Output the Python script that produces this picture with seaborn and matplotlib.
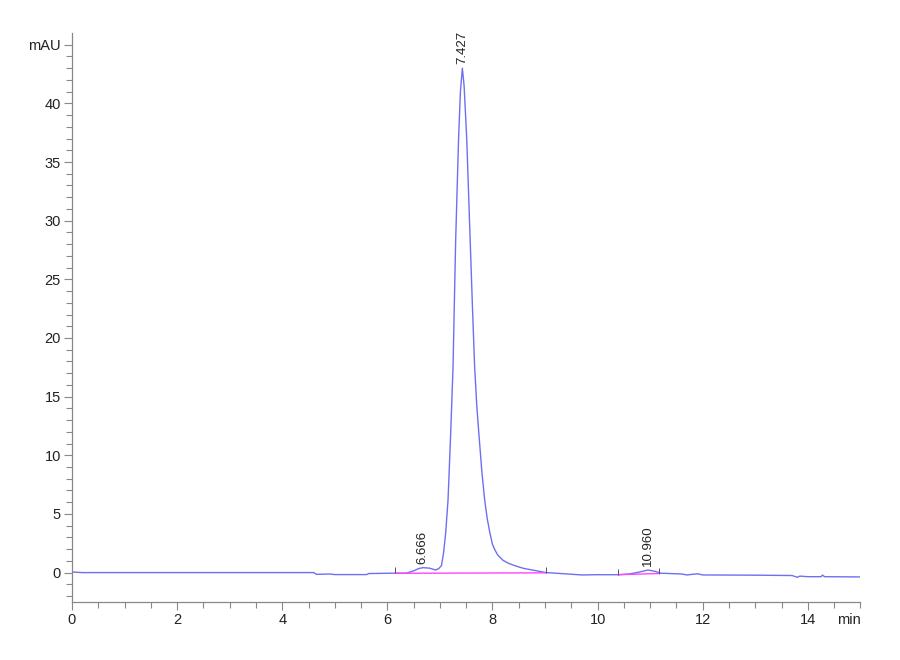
import numpy as np
import pandas as pd
import matplotlib
matplotlib.use("Agg")
import matplotlib.pyplot as plt
import seaborn as sns

# detector trace (time in min, signal in mAU)
time_min = [0.0, 0.2, 1.0, 2.0, 3.0, 4.0, 4.6, 4.65, 4.9, 5.0, 5.6, 5.65, 6.1,
            6.36, 6.5, 6.6, 6.68, 6.8, 6.92, 6.98, 7.03, 7.07, 7.11, 7.155,
            7.205, 7.25, 7.27, 7.30, 7.355, 7.39, 7.427, 7.46, 7.51, 7.575,
            7.62, 7.66, 7.70, 7.74, 7.80, 7.85, 7.90, 7.95, 8.0, 8.05, 8.1,
            8.2, 8.3, 8.45, 8.6, 8.76, 9.02, 9.3, 9.7, 10.0, 10.39, 10.6,
            10.8, 10.96, 11.1, 11.2, 11.6, 11.7, 11.9, 12.0, 13.0, 13.7, 13.8,
            13.85, 14.0, 14.25, 14.28, 14.32, 15.0]
signal_mau = [0.05, 0.0, 0.0, 0.0, 0.0, 0.0, 0.0, -0.15, -0.12, -0.17, -0.17,
              -0.08, -0.05, -0.05, 0.15, 0.35, 0.42, 0.38, 0.22, 0.35, 0.6,
              1.7, 3.4, 6.25, 11.9, 17.6, 22.0, 28.4, 37.0, 41.0, 43.0, 41.5,
              37.0, 28.4, 22.5, 17.6, 14.3, 11.9, 8.5, 6.25, 4.6, 3.4, 2.4,
              1.9, 1.5, 1.05, 0.8, 0.55, 0.35, 0.22, 0.0, -0.08, -0.2, -0.18,
              -0.18, -0.12, 0.05, 0.22, 0.1, -0.05, -0.12, -0.2, -0.1, -0.2,
              -0.22, -0.25, -0.4, -0.3, -0.35, -0.35, -0.22, -0.35, -0.37]

# integration baselines (start/end time, start/end level)
base_t = [[6.14, 9.02], [10.39, 11.16]]
base_y = [[-0.06, -0.02], [-0.18, -0.08]]
event_t = [6.14, 9.02, 10.39, 11.16]
event_y = [-0.06, -0.02, -0.18, -0.08]

peak_rt = [6.666, 7.427, 10.960]
peak_h = [0.42, 43.0, 0.22]

trace = pd.DataFrame({"min": time_min, "mAU": signal_mau})

sns.set_theme(style="white")
plt.rcParams["font.family"] = ["Liberation Sans", "DejaVu Sans"]

fig = plt.figure(figsize=(9, 6.6), dpi=100)
ax = fig.add_axes([0.08, 0.088, 0.876, 0.862])

sns.lineplot(data=trace, x="min", y="mAU", ax=ax, color="#6f6ff2", lw=1.0)
for bt, by in zip(base_t, base_y):
    ax.plot(bt, by, color="#ff44ff", lw=1.0)
ax.vlines(event_t, event_y, [v + 0.5 for v in event_y], color="#555555", lw=0.7)

for rt, h in zip(peak_rt, peak_h):
    ax.annotate(f"{rt:.3f}", (rt, h), xytext=(0, 3), textcoords="offset points",
                rotation=90, ha="center", va="bottom", fontsize=9.5,
                color="#222222")

ax.set_xlim(0, 15)
ax.set_ylim(-2.5, 46)
ax.set_xticks(np.arange(0, 15, 2))
ax.set_xticks(np.arange(0, 15.01, 0.5), minor=True)
yt = np.arange(0, 46, 5)
ax.set_yticks(yt)
ax.set_yticklabels([str(v) for v in yt[:-1]] + ["mAU"])
ax.set_yticks(np.arange(-2, 46, 1), minor=True)
ax.tick_params(axis="both", which="major", direction="out", length=6, width=0.8,
               color="#888888", labelsize=10.5, labelcolor="#222222", pad=2)
ax.tick_params(axis="both", which="minor", direction="out", length=4, width=0.8,
               color="#888888")
ax.tick_params(left=True, bottom=True, which="both")
ax.set_xlabel("")
ax.set_ylabel("")
for side in ["top", "right"]:
    ax.spines[side].set_visible(False)
for side in ["left", "bottom"]:
    ax.spines[side].set_color("#888888")
    ax.spines[side].set_linewidth(0.9)

ax.annotate("min", (15, 0), xycoords=("data", "axes fraction"), xytext=(0, -8),
            textcoords="offset points", ha="right", va="top", fontsize=10.5,
            color="#222222")

fig.savefig("out.png", dpi=100, facecolor="white")
